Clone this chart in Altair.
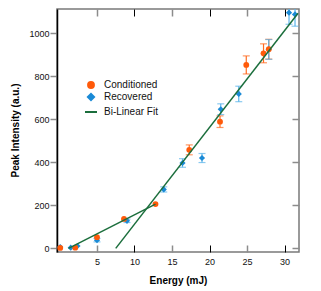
import altair as alt
import pandas as pd

# ---- data ----
cond_energy = [0.1, 2.1, 5.0, 8.6, 12.8, 17.3, 21.4, 24.9, 27.2, 27.9]
cond_intensity = [2, 3, 52, 137, 206, 458, 589, 853, 907, 926]
cond_error = [0, 0, 0, 0, 0, 23, 27, 42, 44, 46]

rec_energy = [0.1, 1.5, 2.4, 5.0, 9.0, 13.9, 16.4, 19.0, 21.5, 23.9, 27.9, 30.6, 31.4]
rec_intensity = [6, 3, 11, 38, 128, 274, 397, 420, 647, 718, 925, 1096, 1088]
rec_error = [0, 0, 0, 8, 8, 12, 20, 21, 25, 36, 46, 54, 55]

fit_low_energy = [1.2, 12.8]
fit_low_intensity = [0, 206]
fit_high_energy = [7.5, 31.8]
fit_high_intensity = [0, 1093]

series_names = ["Conditioned", "Recovered", "Bi-Linear Fit"]
x_ticks = [5, 10, 15, 20, 25, 30]
y_ticks = [0, 200, 400, 600, 800, 1000]

# ---- tables ----
cond = pd.DataFrame({"energy": cond_energy, "intensity": cond_intensity,
                     "err": cond_error, "series": "Conditioned"})
rec = pd.DataFrame({"energy": rec_energy, "intensity": rec_intensity,
                    "err": rec_error, "series": "Recovered"})
for d in (cond, rec):
    d["lo"] = d["intensity"] - d["err"]
    d["hi"] = d["intensity"] + d["err"]
cond_eb = cond[cond["err"] > 0]
rec_eb = rec[rec["err"] > 0]
points = pd.concat([rec, cond], ignore_index=True)

fit = pd.concat([
    pd.DataFrame({"energy": fit_low_energy, "intensity": fit_low_intensity, "seg": "a"}),
    pd.DataFrame({"energy": fit_high_energy, "intensity": fit_high_intensity, "seg": "b"}),
], ignore_index=True)
fit["series"] = "Bi-Linear Fit"

ORANGE = "#ff5a0a"
BLUE = "#1a8ad6"
GREEN = "#1b6e3c"
GRAY = "#8c8c8c"
FONT = "Liberation Sans"

xs = alt.Scale(domain=[-0.33, 31.93], nice=False, zero=False)
ys = alt.Scale(domain=[-17, 1113], nice=False, zero=False)
color_scale = alt.Scale(domain=series_names, range=[ORANGE, BLUE, GREEN])
shape_scale = alt.Scale(domain=series_names, range=["circle", "diamond", "stroke"])
size_scale = alt.Scale(type="ordinal", domain=series_names, range=[34, 38, 144])

legend = alt.Legend(title=None, orient="none", legendX=27, legendY=71,
                    labelFont=FONT, labelFontSize=10, labelColor="#111",
                    labelOffset=6, rowPadding=-8, padding=0, symbolStrokeWidth=2)


def tick_axis(orient, values, color, width):
    return alt.Axis(orient=orient, values=values, offset=-7, tickSize=7,
                    tickColor=color, tickWidth=width, labels=False,
                    domain=False, grid=False, title=None)


ax_bottom_main = alt.Axis(orient="bottom", values=x_ticks, ticks=False, domain=False,
                          grid=False, labelPadding=5, labelFont=FONT, labelFontSize=9,
                          labelColor="#111", title="Energy (mJ)", titleFont=FONT,
                          titleFontSize=10, titleFontWeight="bold", titlePadding=9,
                          titleColor="#000")
ax_left_main = alt.Axis(orient="left", values=y_ticks, format="d", tickSize=7,
                        tickColor=GRAY, tickWidth=1.5, domainColor="#000",
                        domainWidth=1.5, grid=False, labelPadding=1, labelFont=FONT,
                        labelFontSize=9, labelColor="#111",
                        title="Peak Intensity (a.u.)", titleFont=FONT, titleFontSize=10,
                        titleFontWeight="bold", titleColor="#000", titleX=-37, titleY=121)

cond_rules = alt.Chart(cond_eb).mark_rule(color="#ff6a20", strokeWidth=1.2, clip=True).encode(
    x=alt.X("energy:Q", scale=xs, axis=tick_axis("bottom", [5, 15, 25], GRAY, 1.5)),
    y=alt.Y("lo:Q", scale=ys, axis=tick_axis("right", y_ticks, GRAY, 1.5)),
    y2="hi:Q",
)
rec_rules = alt.Chart(rec_eb).mark_rule(color="#5ab4ea", strokeWidth=1.2, clip=True).encode(
    x=alt.X("energy:Q", scale=xs, axis=tick_axis("bottom", [10, 20, 30], "#000", 1)),
    y=alt.Y("lo:Q", scale=ys, axis=None),
    y2="hi:Q",
)
cond_caps = alt.Chart(cond_eb).transform_fold(["lo", "hi"], as_=["k", "v"]).mark_tick(
    color="#ff6a20", orient="horizontal", size=7, thickness=1.2, clip=True).encode(
    x=alt.X("energy:Q", scale=xs, axis=tick_axis("top", [5, 15, 25], GRAY, 1.5)),
    y=alt.Y("v:Q", scale=ys, axis=None),
)
rec_caps = alt.Chart(rec_eb).transform_fold(["lo", "hi"], as_=["k", "v"]).mark_tick(
    color="#5ab4ea", orient="horizontal", size=7, thickness=1.2, clip=True).encode(
    x=alt.X("energy:Q", scale=xs, axis=tick_axis("top", [10, 20, 30], "#000", 1)),
    y=alt.Y("v:Q", scale=ys, axis=None),
)
pts = alt.Chart(points).mark_point(filled=True, opacity=1, clip=True).encode(
    x=alt.X("energy:Q", scale=xs, axis=None),
    y=alt.Y("intensity:Q", scale=ys, axis=None),
    color=alt.Color("series:N", scale=color_scale, legend=legend),
    shape=alt.Shape("series:N", scale=shape_scale, legend=legend),
    size=alt.Size("series:N", scale=size_scale, legend=legend),
)
lines = alt.Chart(fit).mark_line(strokeWidth=1.5, clip=True).encode(
    x=alt.X("energy:Q", scale=xs, axis=ax_bottom_main),
    y=alt.Y("intensity:Q", scale=ys, axis=ax_left_main),
    color=alt.Color("series:N", scale=color_scale, legend=legend),
    detail="seg:N",
)

chart = alt.layer(cond_rules, rec_rules, cond_caps, rec_caps, pts, lines).resolve_axis(
    x="independent", y="independent"
).properties(
    width=242, height=243,
    padding={"left": 49, "top": 1, "right": 10, "bottom": 37},
    autosize=alt.AutoSizeParams(type="none"),
    background="white",
).configure_view(stroke="#7a7a7a", strokeWidth=1.5)

chart.save("out.html", embed_options={"renderer": "svg", "actions": False})
